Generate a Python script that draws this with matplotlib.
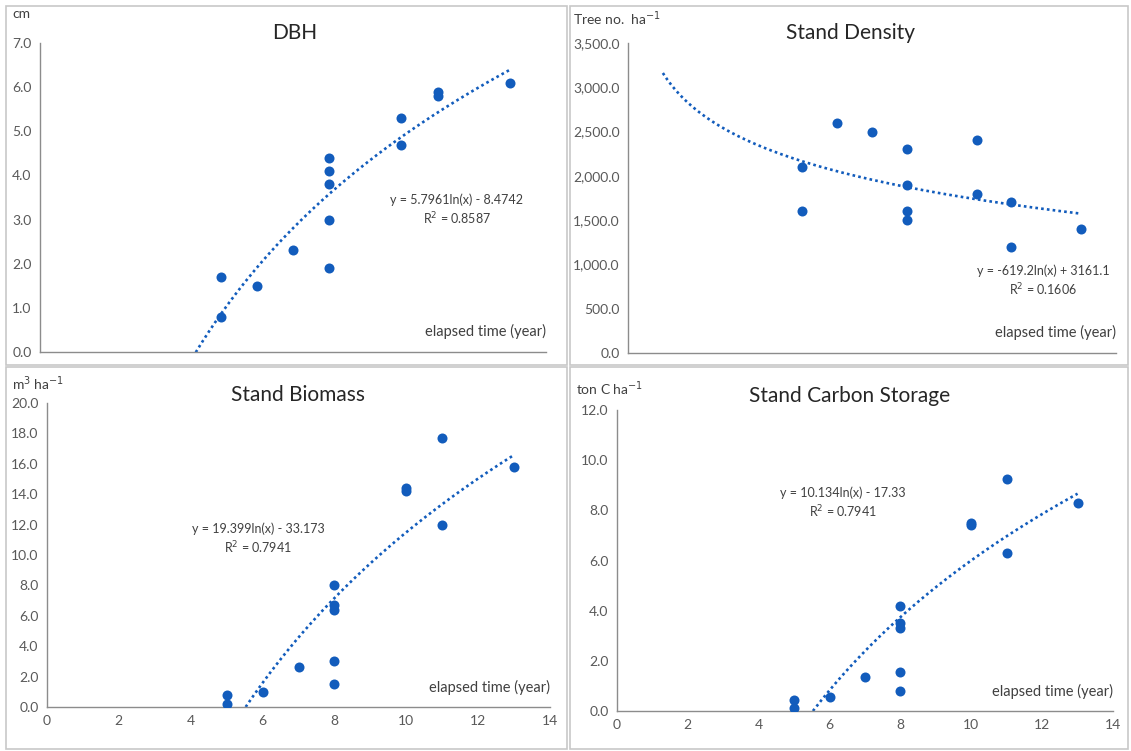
import numpy as np
import matplotlib
matplotlib.use("Agg")
import matplotlib.pyplot as plt
from matplotlib.ticker import FuncFormatter

plt.rcParams['font.family'] = ['Lato', 'DejaVu Sans']

# DBH (cm)
dbh_years = [5, 5, 6, 7, 8, 8, 8, 8, 8, 10, 10, 11, 11, 13]
dbh = [1.7, 0.8, 1.5, 2.3, 4.4, 4.1, 3.8, 3.0, 1.9, 5.3, 4.7, 5.9, 5.8, 6.1]

# stand density (tree no. / ha)
dens_years = [5, 5, 6, 7, 8, 8, 8, 8, 10, 10, 11, 11, 13]
density = [2100, 1600, 2600, 2500, 2300, 1900, 1600, 1500, 2400, 1800, 1700, 1200, 1400]

# stand biomass (m3 / ha)
bio_years = [5, 5, 6, 7, 8, 8, 8, 8, 8, 10, 10, 11, 11, 13]
biomass = [0.8, 0.2, 1.0, 2.6, 8.0, 6.7, 6.4, 3.0, 1.5, 14.4, 14.2, 17.7, 12.0, 15.8]

# stand carbon storage (ton C / ha)
carb_years = [5, 5, 6, 7, 8, 8, 8, 8, 8, 10, 10, 11, 11, 13]
carbon = [0.45, 0.1, 0.55, 1.35, 4.2, 3.5, 3.3, 1.55, 0.8, 7.5, 7.4, 9.25, 6.3, 8.3]

# log trendline coefficients y = a ln(x) + b, R^2
fits = {
    "dbh": (5.7961, -8.4742, 0.8587),
    "density": (-619.2, 3161.1, 0.1606),
    "biomass": (19.399, -33.173, 0.7941),
    "carbon": (10.134, -17.33, 0.7941),
}

blue = "#125cbc"
gray = "#595959"
W, H = 1131, 751

fig = plt.figure(figsize=(11.31, 7.51), dpi=100)

# panel frames
for x0, y0, x1, y1 in [(6, 6, 567, 365), (570, 6, 1128, 365),
                       (6, 367, 567, 749), (570, 367, 1128, 749)]:
    rect = plt.Rectangle((x0 / W, 1 - y1 / H), (x1 - x0) / W, (y1 - y0) / H,
                         transform=fig.transFigure, fill=False, ec="#c8c8c8", lw=1.2)
    fig.add_artist(rect)


def make_panel(box, xs, ys, fit, xstart, ymax, ystep, title, title_pos, unit, unit_pos,
               eq_pos, show_x, fmt="{:.1f}"):
    # box given in pixels: left, right, top, bottom
    l, r, t, b_ = box
    ax = fig.add_axes([l / W, 1 - b_ / H, (r - l) / W, (b_ - t) / H])
    ax.scatter(xs, ys, s=52, color=blue, zorder=3, linewidths=0)
    a, b, r2 = fit
    xt = np.linspace(xstart, 13, 200)
    ax.plot(xt, a * np.log(xt) + b, linestyle=(0, (1, 1.2)), color=blue, lw=1.9)
    ax.set_xlim(0, 14)
    ax.set_ylim(0, ymax)
    ax.set_xticks(range(0, 15, 2))
    ax.set_yticks(np.arange(0, ymax + ystep / 2, ystep))
    ax.yaxis.set_major_formatter(FuncFormatter(lambda v, p: fmt.format(v)))
    ax.tick_params(length=0, labelsize=10, colors=gray, pad=6)
    if not show_x:
        ax.set_xticklabels([])
    for s in ["top", "right"]:
        ax.spines[s].set_visible(False)
    for s in ["left", "bottom"]:
        ax.spines[s].set_color("#8c8c8c")
        ax.spines[s].set_linewidth(1.0)
    fig.text(title_pos[0] / W, 1 - title_pos[1] / H, title, fontsize=15,
             color="#262626", ha="center", va="center")
    fig.text(unit_pos[0] / W, 1 - unit_pos[1] / H, unit, fontsize=10,
             color="#404040", va="center")
    ax.text(1.0, 0.065, "elapsed time (year)", transform=ax.transAxes, ha="right",
            va="center", fontsize=10.5, color="#404040")
    sign = "-" if b < 0 else "+"
    eq = f"y = {a:g}ln(x) {sign} {abs(b):g}\nR$^2$ = {r2:.4f}"
    fig.text(eq_pos[0] / W, 1 - eq_pos[1] / H, eq, fontsize=9, color="#404040",
             ha="center", va="center", linespacing=1.3)
    return ax


make_panel((40, 546, 43, 352), dbh_years, dbh, fits["dbh"], 4.31, 7, 1,
           "DBH", (295, 33), "cm", (12, 14), (457, 210), False)
make_panel((628, 1116, 43, 353), dens_years, density, fits["density"], 1.0, 3500, 500,
           "Stand Density", (851, 33), "Tree no.  ha$^{-1}$", (573, 19), (1043, 281),
           False, fmt="{:,.1f}")
make_panel((47, 550, 403, 707), bio_years, biomass, fits["biomass"], 5.53, 20, 2,
           "Stand Biomass", (298, 395), "m$^3$ ha$^{-1}$", (12, 384), (258, 539), True)
make_panel((617, 1113, 410, 711), carb_years, carbon, fits["carbon"], 5.53, 12, 2,
           "Stand Carbon Storage", (850, 396), "ton C ha$^{-1}$", (576, 389), (843, 503), True)

fig.savefig("out.png", dpi=100)
